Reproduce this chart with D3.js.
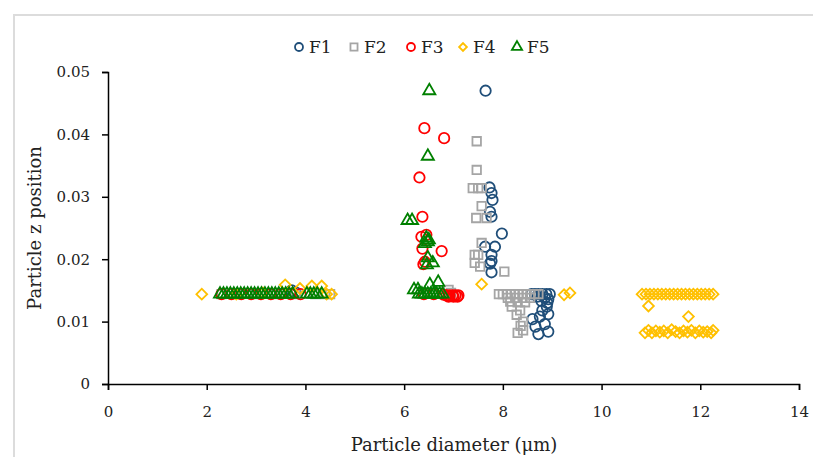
<!DOCTYPE html>
<html>
<head>
<meta charset="utf-8">
<script src="https://cdn.jsdelivr.net/npm/d3@7"></script>
<style>
  body { margin: 0; background: #fff; }
  svg { display: block; }
</style>
</head>
<body>
<svg id="chart" width="813" height="457"></svg>
<script>
// series data: [diameter, z]
const seriesNames = ["F1", "F2", "F3", "F4", "F5"];

const f1Points = [
  [3.72, 0.0150], [3.8, 0.0147],
  [7.65, 0.0470],
  [7.73, 0.0315], [7.77, 0.0306], [7.79, 0.0295], [7.74, 0.0276], [7.77, 0.0268],
  [7.98, 0.0241],
  [7.64, 0.0220], [7.84, 0.0220], [7.77, 0.0207], [7.77, 0.0197], [7.74, 0.0193], [7.77, 0.0179],
  [8.58, 0.0144], [8.65, 0.0144], [8.72, 0.0144], [8.8, 0.0144], [8.88, 0.0144], [8.95, 0.0144],
  [8.7, 0.0140], [8.85, 0.0138], [8.92, 0.0136], [8.78, 0.0133], [8.9, 0.0130],
  [8.89, 0.0124], [8.8, 0.0118], [8.92, 0.0112], [8.75, 0.0108], [8.6, 0.0104],
  [8.85, 0.0096], [8.66, 0.0092], [8.72, 0.0080], [8.92, 0.0084]
];

const f2Points = [
  [2.3, 0.0144], [2.6, 0.0144], [3.0, 0.0144], [3.4, 0.0144], [3.8, 0.0144],
  [4.2, 0.0144], [4.4, 0.0144], [4.5, 0.0144],
  [6.9, 0.0151], [6.95, 0.0146],
  [7.47, 0.0389], [7.47, 0.0343],
  [7.39, 0.0314], [7.5, 0.0314], [7.57, 0.0314],
  [7.57, 0.0285], [7.46, 0.0266], [7.67, 0.0266],
  [7.57, 0.0226], [7.43, 0.0207], [7.5, 0.0207], [7.43, 0.0194], [7.54, 0.0188],
  [8.03, 0.0180],
  [7.92, 0.0144], [8.0, 0.0144], [8.08, 0.0144], [8.16, 0.0144], [8.24, 0.0144], [8.32, 0.0144],
  [8.4, 0.0144], [8.48, 0.0144], [8.56, 0.0144], [8.64, 0.0144], [8.72, 0.0144],
  [8.1, 0.0138], [8.25, 0.0138], [8.4, 0.0138], [8.55, 0.0138],
  [8.15, 0.0132], [8.3, 0.0131], [8.45, 0.0131],
  [8.18, 0.0124], [8.35, 0.0118], [8.28, 0.0111], [8.41, 0.0100],
  [8.36, 0.0093], [8.41, 0.0086], [8.3, 0.0082]
];

const f3Points = [
  [2.3, 0.0144], [2.5, 0.0144], [2.7, 0.0144], [2.9, 0.0144], [3.1, 0.0144],
  [3.3, 0.0144], [3.5, 0.0144], [3.7, 0.0144], [3.9, 0.0144],
  [6.41, 0.0410], [6.81, 0.0394], [6.31, 0.0331], [6.37, 0.0268],
  [6.35, 0.0236], [6.45, 0.0239], [6.37, 0.0217], [6.76, 0.0213], [6.42, 0.0196], [6.39, 0.0192],
  [6.4, 0.0144], [6.6, 0.0144],
  [6.8, 0.0143], [6.86, 0.0142], [6.92, 0.0142], [6.98, 0.0142], [7.04, 0.0142], [7.1, 0.0142],
  [6.9, 0.0140], [7.0, 0.0140], [7.08, 0.0140]
];

const f4Points = [
  [1.9, 0.0144], [2.6, 0.0144], [3.14, 0.0146], [3.59, 0.0159], [3.89, 0.0153],
  [4.13, 0.0157], [4.33, 0.0157], [4.43, 0.0144], [4.53, 0.0144],
  [7.57, 0.0160], [9.24, 0.0143], [9.36, 0.0146],
  [10.82, 0.0144], [10.9, 0.0144], [10.98, 0.0144], [11.06, 0.0144], [11.14, 0.0144],
  [11.22, 0.0144], [11.3, 0.0144], [11.38, 0.0144], [11.46, 0.0144], [11.54, 0.0144],
  [11.62, 0.0144], [11.7, 0.0144], [11.78, 0.0144], [11.86, 0.0144], [11.94, 0.0144],
  [12.02, 0.0144], [12.1, 0.0144], [12.18, 0.0144], [12.26, 0.0144],
  [10.95, 0.0125], [11.76, 0.0108],
  [10.88, 0.0082], [10.95, 0.0086], [11.02, 0.0082], [11.1, 0.0085], [11.18, 0.0083],
  [11.26, 0.0085], [11.34, 0.0082], [11.42, 0.0087], [11.5, 0.0084], [11.58, 0.0082],
  [11.66, 0.0085], [11.74, 0.0083], [11.82, 0.0086], [11.9, 0.0082], [11.98, 0.0085],
  [12.06, 0.0083], [12.14, 0.0084], [12.22, 0.0082], [12.26, 0.0086]
];

const f5Points = [
  [2.27, 0.0144], [2.34, 0.0144], [2.41, 0.0144], [2.48, 0.0144], [2.55, 0.0144], [2.62, 0.0144],
  [2.69, 0.0144], [2.76, 0.0144], [2.83, 0.0144], [2.9, 0.0144], [2.97, 0.0144], [3.04, 0.0144],
  [3.11, 0.0144], [3.18, 0.0144], [3.25, 0.0144], [3.32, 0.0144], [3.39, 0.0144], [3.46, 0.0144],
  [3.53, 0.0144], [3.6, 0.0144], [3.67, 0.0144], [3.74, 0.0144],
  [4.03, 0.0144], [4.1, 0.0144], [4.17, 0.0144], [4.24, 0.0144], [4.33, 0.0144],
  [6.51, 0.0470], [6.48, 0.0365], [6.07, 0.0262], [6.16, 0.0262],
  [6.45, 0.0234], [6.5, 0.0231], [6.48, 0.0228], [6.42, 0.0225],
  [6.48, 0.0202], [6.58, 0.0194], [6.46, 0.0191],
  [6.2, 0.0151], [6.28, 0.0151], [6.52, 0.0159], [6.69, 0.0163],
  [6.3, 0.0144], [6.36, 0.0144], [6.42, 0.0144], [6.48, 0.0144], [6.54, 0.0144],
  [6.6, 0.0144], [6.66, 0.0144], [6.72, 0.0144], [6.78, 0.0144]
];

const xTicks = [0, 2, 4, 6, 8, 10, 12, 14];
const yTicks = [0, 0.01, 0.02, 0.03, 0.04, 0.05];

const serif = "'DejaVu Serif', 'Liberation Serif', serif";
const colors = {F1: "#1f4e79", F2: "#a5a5a5", F3: "#ff0000", F4: "#ffc000", F5: "#008000"};
const shapes = {F1: d3.symbolCircle, F2: d3.symbolSquare, F3: d3.symbolCircle, F4: d3.symbolSquare, F5: d3.symbolTriangle};
const sizes = {F1: 85, F2: 72, F3: 85, F4: 58, F5: 64};
const rotations = {F1: 0, F2: 0, F3: 0, F4: 45, F5: 0};

const svg = d3.select("#chart");

// light frame around the figure
svg.append("path")
  .attr("d", "M14,457 L14,15 L813,15")
  .attr("fill", "none")
  .attr("stroke", "#dcdcdc")
  .attr("stroke-width", 2);

const x = d3.scaleLinear().domain([0, 14]).range([108, 799]);
const y = d3.scaleLinear().domain([0, 0.05]).range([384, 72]);

const xAxis = svg.append("g")
  .attr("transform", `translate(0,${y(0)})`)
  .call(d3.axisBottom(x).tickValues(xTicks).tickFormat(d3.format("d")).tickSizeOuter(0).tickSize(6).tickPadding(16));

const yAxis = svg.append("g")
  .attr("transform", `translate(${x(0)},0)`)
  .call(d3.axisLeft(y).tickValues(yTicks).tickFormat(d => d === 0 ? "0" : d3.format(".2f")(d)).tickSizeOuter(0).tickSize(6).tickPadding(12));

[xAxis, yAxis].forEach(a => {
  a.attr("font-family", serif).attr("font-size", 15);
  a.select(".domain").attr("stroke", "#000").attr("stroke-width", 1.5);
  a.selectAll(".tick line").attr("stroke", "#000").attr("stroke-width", 1.5);
  a.selectAll(".tick text").attr("fill", "#222");
});

svg.append("text")
  .attr("x", 454).attr("y", 451)
  .attr("text-anchor", "middle")
  .attr("font-family", serif)
  .attr("font-size", 18)
  .attr("fill", "#222")
  .text("Particle diameter (μm)");

svg.append("text")
  .attr("transform", "translate(41,228) rotate(-90)")
  .attr("text-anchor", "middle")
  .attr("font-family", serif)
  .attr("font-size", 18)
  .attr("fill", "#222")
  .text("Particle z position");

const allSeries = [f1Points, f2Points, f3Points, f4Points, f5Points];

allSeries.forEach((pts, i) => {
  const name = seriesNames[i];
  svg.append("g")
    .selectAll("path")
    .data(pts)
    .join("path")
    .attr("transform", d => `translate(${x(d[0])},${y(d[1])}) rotate(${rotations[name]})`)
    .attr("d", d3.symbol().type(shapes[name]).size(sizes[name]))
    .attr("fill", "none")
    .attr("stroke", colors[name])
    .attr("stroke-width", 1.8);
});

// legend
const legendX = [299, 354, 411, 463, 517];
const legend = svg.append("g");
seriesNames.forEach((name, i) => {
  legend.append("path")
    .attr("transform", `translate(${legendX[i]},47) rotate(${rotations[name]})`)
    .attr("d", d3.symbol().type(shapes[name]).size(name === "F4" ? 30 : name === "F5" ? 45 : 50))
    .attr("fill", "none")
    .attr("stroke", colors[name])
    .attr("stroke-width", 1.8);
  legend.append("text")
    .attr("x", legendX[i] + 10)
    .attr("y", 53)
    .attr("font-family", serif)
    .attr("font-size", 17)
    .attr("fill", "#222")
    .text(name);
});
</script>
</body>
</html>
